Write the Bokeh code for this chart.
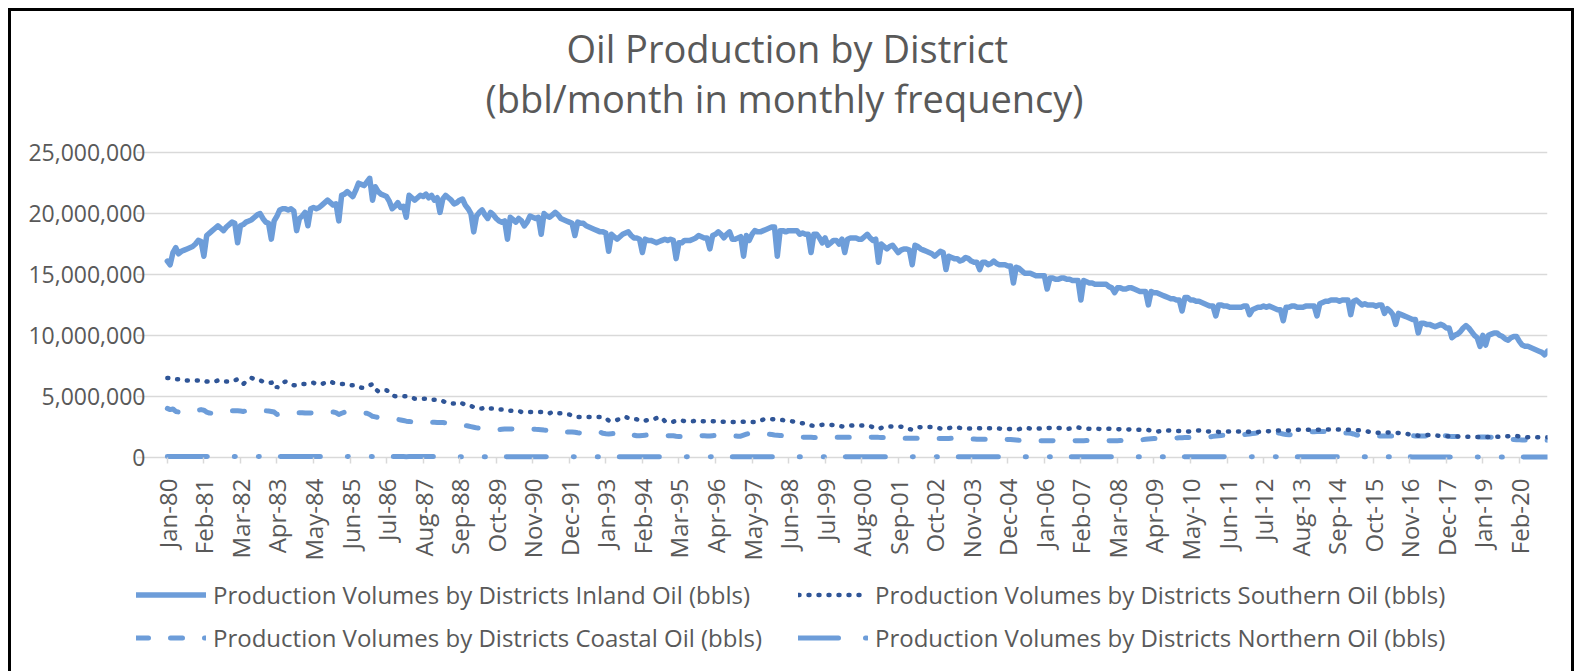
import math
from bokeh.plotting import figure
from bokeh.layouts import column
from bokeh.models import (Range1d, FixedTicker, NumeralTickFormatter, Legend,
                          LegendItem, Title, ColumnDataSource)
from bokeh.embed import file_html
from bokeh.resources import INLINE

title_line1 = "Oil Production by District"
title_line2 = "(bbl/month in monthly frequency)"
series_names = [
    "Production Volumes by Districts Inland Oil (bbls)",
    "Production Volumes by Districts Southern Oil (bbls)",
    "Production Volumes by Districts Coastal Oil (bbls)",
    "Production Volumes by Districts Northern Oil (bbls)",
]
start_year = 1980
month_abbr = ["Jan", "Feb", "Mar", "Apr", "May", "Jun",
              "Jul", "Aug", "Sep", "Oct", "Nov", "Dec"]
tick_labels = ["Jan-80", "Feb-81", "Mar-82", "Apr-83", "May-84", "Jun-85", "Jul-86",
               "Aug-87", "Sep-88", "Oct-89", "Nov-90", "Dec-91", "Jan-93", "Feb-94",
               "Mar-95", "Apr-96", "May-97", "Jun-98", "Jul-99", "Aug-00", "Sep-01",
               "Oct-02", "Nov-03", "Dec-04", "Jan-06", "Feb-07", "Mar-08", "Apr-09",
               "May-10", "Jun-11", "Jul-12", "Aug-13", "Sep-14", "Oct-15", "Nov-16",
               "Dec-17", "Jan-19", "Feb-20"]
y_ticks = [0, 5000000, 10000000, 15000000, 20000000, 25000000]

# monthly values, one row per year (1980 .. 2020), in million bbl
inland = [
    [16.1, 15.8, 16.8, 17.2, 16.7, 16.9, 17.0, 17.1, 17.2, 17.3, 17.5, 17.8],
    [17.7, 16.5, 18.2, 18.4, 18.6, 18.8, 19.0, 18.8, 18.6, 18.9, 19.1, 19.3],
    [19.2, 17.6, 19.0, 19.1, 19.3, 19.4, 19.5, 19.7, 19.9, 20.0, 19.6, 19.3],
    [19.2, 17.9, 19.4, 19.8, 20.3, 20.4, 20.4, 20.3, 20.4, 20.2, 18.6, 19.6],
    [19.8, 20.1, 19.0, 20.4, 20.5, 20.4, 20.5, 20.7, 20.9, 21.1, 20.9, 20.7],
    [20.8, 19.4, 21.5, 21.6, 21.8, 21.6, 21.4, 21.9, 22.5, 22.4, 22.3, 22.6],
    [22.9, 21.1, 22.2, 21.8, 21.6, 21.5, 21.4, 21.0, 20.4, 20.6, 20.9, 20.5],
    [20.6, 19.7, 21.5, 21.3, 21.1, 21.3, 21.5, 21.4, 21.6, 21.3, 21.5, 21.1],
    [21.3, 20.1, 21.2, 21.5, 21.3, 21.1, 20.8, 20.9, 21.1, 21.2, 20.7, 20.4],
    [20.0, 18.5, 19.8, 20.1, 20.3, 19.9, 19.6, 20.1, 19.9, 19.6, 19.4, 19.3],
    [19.4, 17.9, 19.7, 19.5, 19.3, 19.6, 19.4, 19.0, 19.3, 19.8, 19.7, 19.6],
    [19.7, 18.3, 20.0, 19.8, 19.7, 19.9, 20.1, 19.9, 19.6, 19.5, 19.4, 19.3],
    [19.2, 18.2, 19.3, 19.2, 19.2, 19.0, 18.9, 18.8, 18.7, 18.6, 18.5, 18.5],
    [18.4, 16.9, 18.3, 18.1, 17.9, 18.1, 18.3, 18.4, 18.5, 18.2, 18.0, 18.0],
    [17.9, 16.8, 17.9, 17.8, 17.8, 17.7, 17.6, 17.7, 17.8, 17.9, 17.8, 17.9],
    [17.8, 16.3, 17.6, 17.6, 17.8, 17.8, 17.8, 17.9, 18.0, 18.2, 18.1, 18.0],
    [18.0, 17.1, 18.2, 18.3, 18.5, 18.3, 18.0, 18.3, 18.5, 17.9, 17.9, 18.0],
    [18.1, 16.5, 18.2, 17.8, 18.3, 18.6, 18.5, 18.5, 18.6, 18.7, 18.8, 18.9],
    [18.9, 16.5, 18.6, 18.6, 18.5, 18.6, 18.6, 18.6, 18.6, 18.3, 18.4, 18.3],
    [18.3, 16.8, 18.3, 18.3, 18.0, 17.6, 18.0, 17.4, 17.6, 17.8, 17.8, 17.5],
    [17.9, 16.8, 17.9, 18.0, 18.0, 18.0, 17.9, 17.9, 18.1, 18.3, 18.0, 17.8],
    [17.9, 16.0, 17.5, 17.3, 17.1, 17.3, 17.4, 17.1, 16.8, 17.0, 17.1, 17.1],
    [17.0, 15.8, 17.4, 17.3, 17.1, 17.0, 16.9, 16.8, 16.7, 16.5, 16.7, 16.9],
    [16.8, 15.4, 16.5, 16.4, 16.3, 16.3, 16.1, 16.2, 16.4, 16.3, 16.1, 16.0],
    [16.0, 15.4, 16.0, 16.0, 15.8, 15.9, 16.1, 15.9, 15.8, 15.8, 15.8, 15.7],
    [15.7, 14.3, 15.6, 15.5, 15.3, 15.1, 15.1, 15.1, 15.0, 14.9, 14.9, 14.9],
    [14.9, 13.8, 14.7, 14.7, 14.6, 14.6, 14.7, 14.7, 14.6, 14.6, 14.5, 14.5],
    [14.5, 12.9, 14.5, 14.4, 14.3, 14.3, 14.2, 14.2, 14.2, 14.2, 14.2, 14.0],
    [13.9, 13.5, 13.9, 13.9, 13.8, 13.8, 13.9, 13.9, 13.8, 13.7, 13.6, 13.6],
    [13.6, 12.5, 13.6, 13.5, 13.5, 13.4, 13.3, 13.2, 13.1, 13.0, 13.0, 12.9],
    [12.9, 12.0, 13.1, 13.1, 12.9, 12.9, 12.8, 12.8, 12.7, 12.6, 12.5, 12.4],
    [12.4, 11.6, 12.5, 12.5, 12.4, 12.4, 12.3, 12.3, 12.3, 12.3, 12.3, 12.4],
    [12.4, 11.7, 12.1, 12.2, 12.3, 12.3, 12.4, 12.3, 12.4, 12.3, 12.2, 12.1],
    [12.1, 11.2, 12.3, 12.3, 12.4, 12.4, 12.3, 12.3, 12.3, 12.4, 12.4, 12.4],
    [12.4, 11.6, 12.6, 12.7, 12.8, 12.8, 12.9, 12.9, 12.9, 12.8, 12.9, 12.9],
    [12.9, 11.7, 12.8, 12.9, 12.7, 12.5, 12.6, 12.5, 12.5, 12.5, 12.4, 12.5],
    [12.5, 11.8, 12.2, 12.0, 11.7, 10.9, 11.8, 11.7, 11.6, 11.5, 11.4, 11.3],
    [11.3, 10.2, 11.0, 11.0, 10.9, 10.9, 10.8, 10.7, 10.8, 10.9, 10.8, 10.6],
    [10.6, 9.8, 10.0, 10.1, 10.3, 10.6, 10.8, 10.6, 10.3, 10.0, 9.8, 9.1],
    [10.0, 9.2, 10.0, 10.1, 10.2, 10.2, 10.0, 9.9, 9.7, 9.6, 9.8, 9.9],
    [9.9, 9.5, 9.2, 9.1, 9.1, 9.0, 8.9, 8.8, 8.7, 8.6, 8.4, 8.7],
]

southern = [
    [6.5, 6.5, 6.5, 6.4, 6.4, 6.3, 6.3, 6.3, 6.3, 6.3, 6.3, 6.3],
    [6.3, 6.3, 6.2, 6.2, 6.2, 6.2, 6.3, 6.2, 6.2, 6.2, 6.2, 6.2],
    [6.3, 6.4, 6.2, 6.0, 6.2, 6.4, 6.5, 6.4, 6.3, 6.3, 6.2, 6.2],
    [6.1, 6.1, 6.2, 5.7, 5.9, 6.1, 6.2, 6.1, 6.0, 5.9, 5.9, 6.0],
    [6.0, 6.0, 6.1, 6.1, 6.1, 6.0, 6.0, 6.0, 6.1, 6.1, 6.2, 6.1],
    [6.1, 6.0, 6.0, 6.0, 6.0, 5.9, 5.9, 5.9, 5.8, 5.7, 5.7, 5.8],
    [5.9, 6.0, 5.6, 5.4, 5.4, 5.5, 5.5, 5.3, 5.1, 5.0, 5.0, 5.0],
    [5.0, 5.0, 5.0, 4.9, 4.8, 4.8, 4.8, 4.8, 4.8, 4.8, 4.7, 4.7],
    [4.7, 4.6, 4.6, 4.5, 4.4, 4.4, 4.4, 4.5, 4.5, 4.4, 4.3, 4.2],
    [4.2, 4.1, 4.0, 4.0, 4.0, 4.1, 4.1, 4.0, 4.0, 4.0, 3.9, 3.9],
    [3.8, 3.8, 3.8, 3.8, 3.8, 3.8, 3.7, 3.7, 3.7, 3.7, 3.7, 3.7],
    [3.7, 3.7, 3.6, 3.6, 3.6, 3.7, 3.7, 3.6, 3.6, 3.5, 3.5, 3.5],
    [3.4, 3.4, 3.3, 3.3, 3.3, 3.3, 3.3, 3.3, 3.3, 3.3, 3.3, 3.3],
    [3.2, 3.0, 2.95, 3.0, 3.05, 3.15, 3.25, 3.3, 3.2, 3.2, 3.1, 3.1],
    [3.0, 2.95, 3.0, 3.05, 3.1, 3.1, 3.2, 3.3, 3.2, 2.95, 2.85, 2.85],
    [2.9, 3.0, 3.0, 3.0, 2.95, 2.95, 2.95, 2.95, 3.0, 2.95, 2.95, 2.95],
    [2.95, 2.95, 2.95, 2.95, 2.9, 2.9, 2.9, 2.9, 2.9, 2.88, 2.88, 2.88],
    [2.9, 2.9, 2.92, 2.9, 2.88, 2.88, 2.9, 3.0, 3.08, 3.1, 3.1, 3.12],
    [3.1, 3.08, 3.06, 3.04, 3.0, 2.97, 2.95, 2.9, 2.85, 2.8, 2.78, 2.75],
    [2.65, 2.6, 2.57, 2.6, 2.63, 2.65, 2.65, 2.65, 2.65, 2.62, 2.58, 2.55],
    [2.52, 2.51, 2.55, 2.58, 2.6, 2.6, 2.59, 2.59, 2.58, 2.59, 2.55, 2.45],
    [2.4, 2.32, 2.4, 2.48, 2.51, 2.51, 2.51, 2.51, 2.51, 2.5, 2.45, 2.35],
    [2.3, 2.26, 2.35, 2.45, 2.46, 2.46, 2.47, 2.48, 2.48, 2.45, 2.4, 2.35],
    [2.32, 2.32, 2.38, 2.42, 2.46, 2.44, 2.4, 2.37, 2.35, 2.35, 2.35, 2.35],
    [2.35, 2.37, 2.4, 2.38, 2.37, 2.37, 2.36, 2.35, 2.34, 2.32, 2.32, 2.32],
    [2.3, 2.28, 2.26, 2.3, 2.36, 2.4, 2.38, 2.35, 2.33, 2.32, 2.34, 2.36],
    [2.37, 2.38, 2.4, 2.42, 2.43, 2.4, 2.36, 2.33, 2.32, 2.34, 2.38, 2.42],
    [2.43, 2.4, 2.36, 2.33, 2.32, 2.32, 2.33, 2.32, 2.31, 2.32, 2.33, 2.32],
    [2.32, 2.31, 2.3, 2.29, 2.29, 2.28, 2.27, 2.26, 2.26, 2.25, 2.25, 2.24],
    [2.24, 2.22, 2.18, 2.12, 2.1, 2.12, 2.15, 2.17, 2.18, 2.17, 2.16, 2.15],
    [2.15, 2.13, 2.11, 2.1, 2.12, 2.15, 2.17, 2.18, 2.16, 2.13, 2.11, 2.1],
    [2.09, 2.08, 2.07, 2.07, 2.08, 2.09, 2.1, 2.1, 2.1, 2.1, 2.1, 2.1],
    [2.09, 2.07, 2.05, 2.04, 2.06, 2.09, 2.11, 2.12, 2.13, 2.15, 2.17, 2.18],
    [2.18, 2.18, 2.18, 2.19, 2.2, 2.22, 2.24, 2.25, 2.25, 2.24, 2.24, 2.24],
    [2.24, 2.24, 2.24, 2.25, 2.26, 2.26, 2.26, 2.26, 2.26, 2.26, 2.26, 2.25],
    [2.24, 2.24, 2.24, 2.22, 2.2, 2.18, 2.15, 2.1, 2.05, 2.02, 2.0, 1.99],
    [1.99, 2.0, 2.01, 2.01, 2.01, 2.0, 1.98, 1.95, 1.92, 1.9, 1.86, 1.82],
    [1.78, 1.76, 1.76, 1.77, 1.8, 1.82, 1.8, 1.78, 1.76, 1.74, 1.72, 1.71],
    [1.71, 1.7, 1.7, 1.69, 1.68, 1.68, 1.67, 1.67, 1.66, 1.66, 1.65, 1.65],
    [1.65, 1.65, 1.65, 1.65, 1.65, 1.66, 1.67, 1.68, 1.7, 1.72, 1.74, 1.74],
    [1.73, 1.7, 1.67, 1.65, 1.63, 1.62, 1.62, 1.62, 1.62, 1.62, 1.62, 1.62],
]

coastal = [
    [4.0, 3.9, 3.95, 3.75, 3.7, 3.62, 3.65, 3.7, 3.72, 3.75, 3.8, 3.85],
    [3.9, 3.85, 3.7, 3.62, 3.6, 3.68, 3.72, 3.7, 3.72, 3.75, 3.78, 3.8],
    [3.8, 3.8, 3.78, 3.75, 3.8, 3.82, 3.8, 3.78, 3.75, 3.78, 3.8, 3.8],
    [3.78, 3.75, 3.7, 3.5, 3.55, 3.6, 3.62, 3.62, 3.65, 3.65, 3.65, 3.65],
    [3.65, 3.62, 3.62, 3.63, 3.64, 3.65, 3.65, 3.65, 3.66, 3.68, 3.7, 3.7],
    [3.65, 3.5, 3.6, 3.68, 3.7, 3.72, 3.7, 3.68, 3.66, 3.64, 3.62, 3.6],
    [3.5, 3.35, 3.3, 3.25, 3.22, 3.2, 3.2, 3.18, 3.15, 3.12, 3.1, 3.05],
    [3.0, 2.95, 2.93, 2.9, 2.88, 2.85, 2.82, 2.8, 2.8, 2.82, 2.85, 2.86],
    [2.85, 2.85, 2.84, 2.82, 2.8, 2.78, 2.75, 2.72, 2.68, 2.64, 2.6, 2.55],
    [2.5, 2.45, 2.4, 2.38, 2.35, 2.3, 2.32, 2.3, 2.28, 2.26, 2.26, 2.28],
    [2.3, 2.3, 2.3, 2.32, 2.32, 2.3, 2.28, 2.3, 2.32, 2.3, 2.3, 2.28],
    [2.27, 2.25, 2.22, 2.2, 2.2, 2.22, 2.24, 2.2, 2.1, 2.05, 2.05, 2.06],
    [2.06, 2.04, 2.0, 1.98, 1.98, 2.0, 2.02, 2.05, 2.08, 2.1, 2.05, 1.95],
    [1.92, 1.9, 1.92, 1.94, 1.96, 1.97, 1.98, 2.0, 2.02, 1.95, 1.8, 1.75],
    [1.76, 1.78, 1.8, 1.82, 1.8, 1.78, 1.76, 1.74, 1.74, 1.74, 1.75, 1.76],
    [1.75, 1.72, 1.7, 1.7, 1.72, 1.74, 1.76, 1.78, 1.78, 1.77, 1.76, 1.75],
    [1.74, 1.74, 1.76, 1.78, 1.8, 1.8, 1.78, 1.77, 1.76, 1.75, 1.74, 1.72],
    [1.72, 1.8, 1.88, 1.95, 1.97, 1.97, 1.96, 1.95, 1.94, 1.92, 1.88, 1.85],
    [1.82, 1.8, 1.78, 1.75, 1.72, 1.72, 1.7, 1.68, 1.66, 1.65, 1.64, 1.63],
    [1.63, 1.62, 1.61, 1.6, 1.6, 1.6, 1.62, 1.6, 1.6, 1.62, 1.62, 1.62],
    [1.62, 1.62, 1.62, 1.62, 1.62, 1.62, 1.62, 1.62, 1.62, 1.64, 1.64, 1.63],
    [1.62, 1.62, 1.6, 1.6, 1.6, 1.59, 1.58, 1.57, 1.56, 1.55, 1.55, 1.55],
    [1.55, 1.55, 1.55, 1.54, 1.54, 1.54, 1.54, 1.54, 1.53, 1.53, 1.53, 1.53],
    [1.53, 1.53, 1.53, 1.54, 1.55, 1.55, 1.55, 1.54, 1.53, 1.52, 1.5, 1.48],
    [1.46, 1.46, 1.46, 1.46, 1.46, 1.46, 1.46, 1.46, 1.46, 1.46, 1.46, 1.45],
    [1.44, 1.42, 1.4, 1.38, 1.37, 1.36, 1.36, 1.35, 1.35, 1.35, 1.35, 1.35],
    [1.35, 1.35, 1.34, 1.35, 1.36, 1.35, 1.35, 1.34, 1.35, 1.35, 1.36, 1.35],
    [1.35, 1.34, 1.35, 1.36, 1.35, 1.35, 1.34, 1.35, 1.35, 1.36, 1.35, 1.35],
    [1.34, 1.35, 1.35, 1.36, 1.35, 1.35, 1.35, 1.35, 1.36, 1.38, 1.4, 1.43],
    [1.46, 1.48, 1.5, 1.52, 1.52, 1.53, 1.53, 1.52, 1.52, 1.53, 1.55, 1.57],
    [1.58, 1.59, 1.6, 1.6, 1.61, 1.6, 1.6, 1.6, 1.61, 1.62, 1.64, 1.67],
    [1.7, 1.73, 1.76, 1.78, 1.8, 1.81, 1.82, 1.82, 1.82, 1.83, 1.84, 1.85],
    [1.88, 1.9, 1.93, 1.96, 1.98, 2.0, 1.95, 1.9, 1.86, 1.88, 1.92, 1.98],
    [1.95, 1.9, 1.86, 1.84, 1.85, 1.88, 1.92, 1.96, 2.0, 2.04, 2.07, 2.08],
    [2.09, 2.1, 2.1, 2.1, 2.1, 2.08, 2.06, 2.04, 2.03, 2.02, 2.0, 1.98],
    [1.98, 1.96, 1.9, 1.82, 1.78, 1.76, 1.74, 1.72, 1.72, 1.73, 1.74, 1.74],
    [1.74, 1.74, 1.74, 1.74, 1.74, 1.74, 1.74, 1.74, 1.75, 1.76, 1.76, 1.75],
    [1.74, 1.73, 1.73, 1.74, 1.74, 1.8, 1.98, 2.1, 2.02, 1.85, 1.78, 1.75],
    [1.72, 1.7, 1.7, 1.7, 1.69, 1.68, 1.68, 1.68, 1.67, 1.67, 1.66, 1.66],
    [1.65, 1.65, 1.64, 1.63, 1.62, 1.6, 1.58, 1.55, 1.52, 1.5, 1.47, 1.45],
    [1.43, 1.42, 1.41, 1.4, 1.4, 1.39, 1.39, 1.38, 1.38, 1.38, 1.38, 1.38],
]

# thousand bbl
northern = [
    [46, 45, 47, 46, 45, 46, 47, 46, 45, 46, 47, 46],
    [46, 44, 46, 45, 45, 46, 46, 45, 45, 46, 46, 45],
    [45, 43, 45, 45, 44, 45, 45, 44, 44, 45, 45, 44],
    [44, 42, 44, 44, 43, 44, 44, 44, 43, 44, 44, 43],
    [43, 42, 43, 43, 43, 43, 43, 43, 42, 43, 43, 42],
    [42, 40, 42, 42, 41, 42, 42, 41, 41, 42, 42, 41],
    [41, 39, 41, 40, 40, 41, 41, 40, 40, 40, 40, 40],
    [40, 38, 40, 39, 39, 40, 40, 39, 39, 39, 39, 39],
    [39, 37, 39, 38, 38, 39, 39, 38, 38, 38, 38, 38],
    [38, 36, 38, 37, 37, 37, 37, 37, 37, 37, 37, 37],
    [37, 35, 37, 36, 36, 36, 36, 36, 36, 36, 36, 36],
    [36, 34, 36, 35, 35, 35, 35, 35, 35, 35, 35, 35],
    [35, 33, 35, 34, 34, 34, 34, 34, 34, 34, 34, 34],
    [34, 32, 34, 33, 33, 33, 33, 33, 33, 33, 33, 33],
    [33, 31, 33, 33, 32, 33, 33, 32, 32, 33, 32, 32],
    [32, 30, 32, 32, 31, 32, 32, 31, 31, 32, 31, 31],
    [31, 30, 31, 31, 31, 31, 31, 31, 30, 31, 31, 30],
    [30, 29, 30, 30, 30, 30, 30, 30, 30, 30, 30, 30],
    [30, 28, 30, 29, 29, 30, 30, 29, 29, 29, 29, 29],
    [29, 27, 29, 28, 28, 29, 29, 28, 28, 28, 28, 28],
    [28, 27, 28, 28, 28, 28, 28, 28, 27, 28, 28, 27],
    [27, 26, 27, 27, 27, 27, 27, 27, 27, 27, 27, 27],
    [27, 25, 27, 26, 26, 27, 27, 26, 26, 26, 26, 26],
    [26, 25, 26, 26, 26, 26, 26, 26, 25, 26, 26, 25],
    [25, 24, 25, 25, 25, 25, 25, 25, 25, 25, 25, 25],
    [25, 23, 25, 24, 24, 25, 25, 24, 24, 24, 24, 24],
    [24, 23, 24, 24, 24, 24, 24, 24, 23, 24, 24, 23],
    [23, 22, 23, 23, 23, 23, 23, 23, 23, 23, 23, 23],
    [23, 21, 23, 22, 22, 23, 23, 22, 22, 22, 22, 22],
    [22, 21, 22, 22, 22, 22, 22, 22, 21, 22, 22, 21],
    [21, 20, 21, 21, 21, 21, 21, 21, 21, 21, 21, 21],
    [21, 19, 21, 20, 20, 21, 21, 20, 20, 20, 20, 20],
    [20, 19, 20, 20, 20, 20, 20, 20, 19, 20, 20, 19],
    [19, 18, 19, 19, 19, 19, 19, 19, 19, 19, 19, 19],
    [19, 18, 19, 19, 19, 19, 19, 19, 18, 19, 19, 18],
    [18, 17, 18, 18, 18, 18, 18, 18, 18, 18, 18, 18],
    [18, 17, 18, 18, 18, 18, 18, 18, 17, 18, 18, 17],
    [17, 16, 17, 17, 17, 17, 17, 17, 17, 17, 17, 17],
    [17, 16, 17, 17, 17, 17, 17, 17, 16, 17, 17, 16],
    [16, 15, 16, 16, 16, 16, 16, 16, 16, 16, 16, 16],
    [16, 15, 16, 15, 15, 15, 15, 15, 15, 15, 15, 15],
]


def flatten(rows, scale):
    return [v * scale for row in rows for v in row]


inland_v = flatten(inland, 1e6)
southern_v = flatten(southern, 1e6)
coastal_v = flatten(coastal, 1e6)
northern_v = flatten(northern, 1e3)
n = len(inland_v)
src = ColumnDataSource(dict(x=list(range(n)), inland=inland_v, southern=southern_v,
                            coastal=coastal_v, northern=northern_v))


def month_index(label):
    m, yy = label.split("-")
    yy = int(yy)
    year = 1900 + yy if yy >= 50 else 2000 + yy
    return (year - start_year) * 12 + month_abbr.index(m)


tick_pos = [month_index(l) for l in tick_labels]

TEXT = "#595959"
GRID = "#D9D9D9"
LIGHT = "#6D9DD9"
DARK = "#2F5597"
FONT = "Open Sans"

styles_in = dict(line_color=LIGHT, line_width=5.5, line_join="round", line_cap="round")
styles_so = dict(line_color=DARK, line_width=4.5, line_dash="1 9", line_cap="round")
styles_co = dict(line_color=LIGHT, line_width=5, line_dash="12 22", line_join="round",
                 line_cap="round")
styles_no = dict(line_color=LIGHT, line_width=5, line_dash="40 27 1 23 1 21",
                 line_cap="round")

# ---------------- main chart ----------------
# the frame begins a little left of the first month (grid lines are bounded to
# the data) so that the legend strip below can line up with the reference
p = figure(width=1566, height=557, output_backend="svg", toolbar_location=None,
           x_range=Range1d(-10.97, n - 1), y_range=Range1d(-280000, 27400000),
           min_border_left=125, min_border_right=30, min_border_top=112,
           min_border_bottom=108)
p.styles = {"border-top": "3px solid #000", "border-left": "3px solid #000",
            "border-right": "3px solid #000"}
p.outline_line_color = None
p.background_fill_color = "white"
p.border_fill_color = "white"

p.line("x", "inland", source=src, **styles_in)
p.line("x", "coastal", source=src, **styles_co)
p.line("x", "northern", source=src, **styles_no)
p.line("x", "southern", source=src, **styles_so)

p.xaxis.ticker = FixedTicker(ticks=tick_pos)
p.xaxis.major_label_overrides = {t: l for t, l in zip(tick_pos, tick_labels)}
p.xaxis.major_label_orientation = math.pi / 2
p.xaxis.axis_line_color = None
p.xaxis.major_tick_in = 3
p.xaxis.major_tick_out = 3
p.xaxis.major_tick_line_color = GRID
p.xaxis.major_tick_line_width = 1.5
p.xaxis.minor_tick_line_color = None
p.xaxis.major_label_standoff = 15
p.xaxis.major_label_text_font = FONT
p.xaxis.major_label_text_font_size = "24px"
p.xaxis.major_label_text_color = TEXT
p.xgrid.grid_line_color = None

p.yaxis.ticker = FixedTicker(ticks=y_ticks)
p.yaxis.formatter = NumeralTickFormatter(format="0,0")
p.yaxis.axis_line_color = None
p.yaxis.major_tick_line_color = None
p.yaxis.major_tick_out = 0
p.yaxis.major_tick_in = 0
p.yaxis.minor_tick_line_color = None
p.yaxis.major_label_standoff = -9
p.yaxis.major_label_text_font = FONT
p.yaxis.major_label_text_font_size = "23px"
p.yaxis.major_label_text_color = TEXT
p.ygrid.ticker = FixedTicker(ticks=y_ticks)
p.ygrid.grid_line_color = GRID
p.ygrid.grid_line_width = 1.5
p.ygrid.bounds = (0, n - 1)

t2 = Title(text=title_line2, align="left", offset=349, text_font=FONT,
           text_font_size="38px", text_font_style="normal", text_color=TEXT,
           standoff=0)
t1 = Title(text=title_line1, align="left", offset=430, text_font=FONT,
           text_font_size="38px", text_font_style="normal", text_color=TEXT,
           standoff=-8)
p.add_layout(t2, "above")
p.add_layout(t1, "above")

# ---------------- legend strip ----------------
pl = figure(width=1566, height=106, output_backend="svg", toolbar_location=None,
            x_range=Range1d(0, 1), y_range=Range1d(0, 1),
            x_axis_location=None, y_axis_location=None,
            min_border_left=0, min_border_right=0, min_border_top=0,
            min_border_bottom=0)
pl.styles = {"border-left": "3px solid #000", "border-right": "3px solid #000"}
pl.outline_line_color = None
pl.grid.grid_line_color = None
pl.background_fill_color = "white"
pl.border_fill_color = "white"

# same series, outside this strip's ranges: only their legend samples show
l_in = pl.line("x", "inland", source=src, **styles_in)
l_so = pl.line("x", "southern", source=src, **styles_so)
l_co = pl.line("x", "coastal", source=src, **styles_co)
l_no = pl.line("x", "northern", source=src, **styles_no)

legend = Legend(
    items=[LegendItem(label=series_names[0], renderers=[l_in]),
           LegendItem(label=series_names[1], renderers=[l_so]),
           LegendItem(label=series_names[2], renderers=[l_co]),
           LegendItem(label=series_names[3], renderers=[l_no])],
    orientation="horizontal", ncols=2, location=(0, 17),
    label_text_font=FONT, label_text_font_size="24px", label_text_color=TEXT,
    glyph_width=70, glyph_height=33, label_height=33, label_width=575,
    label_standoff=7, spacing=10, padding=0, margin=0, border_line_color=None,
    background_fill_alpha=0)
pl.add_layout(legend, "center")

layout = column(p, pl, spacing=0)
layout.styles = {"margin-left": "8px", "margin-top": "8px"}

open("out.html", "w").write(file_html(layout, INLINE))
